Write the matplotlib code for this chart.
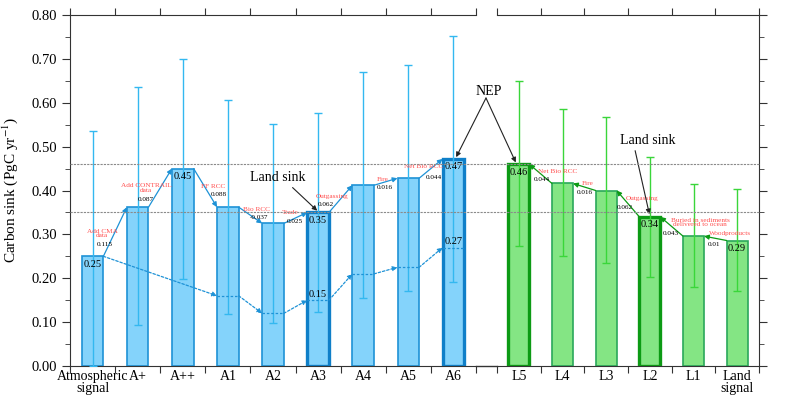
import numpy as np
import matplotlib.pyplot as plt
import matplotlib.transforms as mtransforms
from matplotlib.lines import Line2D

plt.rcParams['font.family'] = ['Liberation Serif', 'DejaVu Serif']
plt.rcParams['mathtext.fontset'] = 'stix'
plt.rcParams['font.size'] = 10

# atmospheric side (left panel)
atm_names = ["Atmospheric\nsignal", "A+", "A++", "A1", "A2", "A3", "A4", "A5", "A6"]
atm_values = [0.25, 0.362, 0.45, 0.362, 0.325, 0.35, 0.412, 0.428, 0.472]
atm_upper = [0.535, 0.636, 0.70, 0.607, 0.552, 0.576, 0.67, 0.685, 0.752]
atm_lower = [0.0, 0.093, 0.199, 0.118, 0.099, 0.124, 0.154, 0.171, 0.192]
atm_dotted = [0.25, np.nan, np.nan, 0.16, 0.12, 0.15, 0.21, 0.225, 0.27]
atm_steps = ["Add CMA\ndata", "Add CONTRAIL\ndata", "FF RCC", "Bio RCC", "Trade",
             "Outgassing", "Fire", "Net Bio RCC"]
atm_deltas = ["0.115", "0.087", "0.088", "-0.037", "0.025", "0.062", "0.016", "0.044"]
atm_shown = {0: "0.25", 2: "0.45", 5: "0.35", 8: "0.47"}
atm_dotted_shown = {5: "0.15", 8: "0.27"}

# land side (right panel)
land_names = ["L5", "L4", "L3", "L2", "L1", "Land\nsignal"]
land_values = [0.46, 0.416, 0.40, 0.34, 0.296, 0.286]
land_upper = [0.65, 0.585, 0.568, 0.477, 0.414, 0.404]
land_lower = [0.274, 0.251, 0.235, 0.203, 0.18, 0.171]
land_steps = ["Net Bio RCC", "Fire", "Outgassing", "Buried in sediments\ndelivered to ocean",
              "Woodproducts"]
land_deltas = ["0.044", "0.016", "0.062", "0.043", "0.01"]
land_shown = {0: "0.46", 3: "0.34", 5: "0.29"}

NEP_LEVEL = 0.46
SINK_LEVEL = 0.35

# label placement (data coords of each panel)
atm_step_xy = [(0.21, 0.302), (1.19, 0.406), (2.68, 0.409), (3.63, 0.356), (4.39, 0.349),
               (5.30, 0.386), (6.43, 0.426), (7.34, 0.454)]
atm_delta_xy = [(0.28, 0.276), (1.17, 0.380), (2.79, 0.392), (3.70, 0.339), (4.49, 0.329),
                (5.18, 0.369), (6.48, 0.406), (7.56, 0.429)]
land_step_xy = [(0.89, 0.444), (1.58, 0.416), (2.82, 0.382), (4.15, 0.327), (4.83, 0.301)]
land_delta_xy = [(0.53, 0.424), (1.52, 0.395), (2.42, 0.362), (3.48, 0.301), (4.46, 0.276)]

W = 0.48
RED = '#ff4f4f'
BLUE_FILL, BLUE_EDGE, BLUE_DARK, BLUE_ERR = '#84d3fb', '#1e92d6', '#0f7fc8', '#33b8f0'
GREEN_FILL, GREEN_EDGE, GREEN_DARK, GREEN_ERR = '#84e584', '#2aa85a', '#0c9a14', '#3ad63a'
SPINE = '#333333'


def style_axis(ax, names, side):
	n = len(names)
	x = np.arange(n)
	ax.set_xlim(-0.5, n - 0.5)
	ax.set_ylim(0, 0.8)
	ax.set_xticks(np.arange(-0.5, n, 1.0))
	ax.set_xticks(x, names, minor=True)
	ax.tick_params(axis='x', which='major', direction='out', length=5, top=True,
	               labelbottom=False, color=SPINE)
	ax.tick_params(axis='x', which='minor', length=0, labelsize=10, pad=3)
	for lab in ax.get_xticklabels(minor=True):
		lab.set_linespacing(0.85)
	ax.set_yticks(np.arange(0, 0.81, 0.1))
	ax.set_yticks(np.arange(0.05, 0.8, 0.1), minor=True)
	ax.tick_params(axis='y', which='major', direction='out', length=6, color=SPINE, labelsize=10.5)
	ax.tick_params(axis='y', which='minor', direction='out', length=3.5, color=SPINE)
	ax.yaxis.set_major_formatter('{x:.2f}')
	for s in ax.spines.values():
		s.set_color(SPINE)
	if side == 'left':
		ax.spines['right'].set_visible(False)
	else:
		ax.spines['left'].set_visible(False)
		ax.yaxis.tick_right()
		ax.tick_params(axis='y', which='both', labelright=False)


def draw_bars(ax, values, upper, lower, fill, edge, dark, err, bold):
	x = np.arange(len(values))
	v = np.array(values)
	bars = ax.bar(x, v, width=W, color=fill, edgecolor=edge, linewidth=1.2, zorder=2)
	for i in bold:
		bars[i].set_edgecolor(dark)
		bars[i].set_linewidth(2.4)
	ax.errorbar(x, v, yerr=[v - np.array(lower), np.array(upper) - v], fmt='none',
	            ecolor=err, elinewidth=1, capsize=3, capthick=1, zorder=3)


def arrow(ax, start, end, color, ls='-', lw=0.9):
	ax.annotate('', xy=end, xytext=start,
	            arrowprops=dict(arrowstyle='-|>', color=color, lw=lw, ls=ls,
	                            mutation_scale=7, shrinkA=0, shrinkB=0), zorder=4)


fig = plt.figure(figsize=(7.87, 4.11), dpi=100)
ax1 = fig.add_axes([70 / 787, 45 / 411, 406 / 787, 351 / 411])
ax2 = fig.add_axes([497 / 787, 45 / 411, 262 / 787, 351 / 411])

style_axis(ax1, atm_names, 'left')
style_axis(ax2, land_names, 'right')
ax1.set_ylabel("Carbon sink (PgC yr$^{-1}$)", fontsize=11, labelpad=8)

draw_bars(ax1, atm_values, atm_upper, atm_lower, BLUE_FILL, BLUE_EDGE, BLUE_DARK, BLUE_ERR, [5, 8])
draw_bars(ax2, land_values, land_upper, land_lower, GREEN_FILL, GREEN_EDGE, GREEN_DARK, GREEN_ERR, [0, 3])

# reference levels across both panels, and the bottom spine through the gap
for level, col, ls, lw in [(NEP_LEVEL, '#8a8a8a', (0, (2, 1)), 0.8),
                           (SINK_LEVEL, '#8a8a8a', (0, (2, 1)), 0.8),
                           (0.0, SPINE, '-', 1.0)]:
	tr = mtransforms.blended_transform_factory(fig.transFigure, ax1.transData)
	x0 = 70 / 787 if level > 0 else 476 / 787
	x1 = 759 / 787 if level > 0 else 497 / 787
	fig.add_artist(Line2D([x0, x1], [level, level], transform=tr, color=col, ls=ls, lw=lw, zorder=1))

# solid step arrows (left: forward, right: backward)
for i in range(len(atm_values) - 1):
	arrow(ax1, (i + W / 2, atm_values[i]), (i + 1 - W / 2, atm_values[i + 1]), BLUE_EDGE)
for i in range(len(land_values) - 1):
	arrow(ax2, (i + 1 - W / 2, land_values[i + 1]), (i + W / 2, land_values[i]), GREEN_DARK)

# dotted lower path on the atmospheric side
known = [i for i, d in enumerate(atm_dotted) if not np.isnan(d)]
for a, b in zip(known[:-1], known[1:]):
	arrow(ax1, (a + W / 2, atm_dotted[a]), (b - W / 2, atm_dotted[b]), BLUE_EDGE, ls=(0, (2, 1.5)))
for i in known[1:]:
	ax1.plot([i - W / 2, i + W / 2], [atm_dotted[i], atm_dotted[i]], color=BLUE_EDGE,
	         ls=(0, (2, 1.5)), lw=0.9, zorder=4)

# step labels
for txt, (x, y) in zip(atm_steps, atm_step_xy):
	ax1.text(x, y, txt, color=RED, fontsize=5.2, ha='center', va='center', linespacing=0.95, zorder=5)
for txt, (x, y) in zip(atm_deltas, atm_delta_xy):
	ax1.text(x, y, txt, color='black', fontsize=5.2, ha='center', va='center', zorder=5)
for txt, (x, y) in zip(land_steps, land_step_xy):
	ax2.text(x, y, txt, color=RED, fontsize=5.2, ha='center', va='center', linespacing=0.95, zorder=5)
for txt, (x, y) in zip(land_deltas, land_delta_xy):
	ax2.text(x, y, txt, color='black', fontsize=5.2, ha='center', va='center', zorder=5)

# value labels inside bars
for i, txt in atm_shown.items():
	ax1.text(i, atm_values[i] - 0.008, txt, fontsize=7.5, ha='center', va='top', zorder=5)
for i, txt in atm_dotted_shown.items():
	ax1.text(i, atm_dotted[i] + 0.003, txt, fontsize=7.5, ha='center', va='bottom', zorder=5)
for i, txt in land_shown.items():
	ax2.text(i, land_values[i] - 0.008, txt, fontsize=7.5, ha='center', va='top', zorder=5)

# black callouts
black = dict(arrowstyle='-|>', color='#222222', lw=0.8, mutation_scale=7, shrinkA=0, shrinkB=0)
ax1.annotate('Land sink', xy=(4.98, SINK_LEVEL + 0.004), xytext=(4.1, 0.43), fontsize=10,
             ha='center', va='center', arrowprops=dict(black, relpos=(0.7, 0.0), shrinkA=1), zorder=6)
ax2.annotate('Land sink', xy=(2.99, land_values[3] + 0.006), xytext=(2.96, 0.515), fontsize=10,
             ha='center', va='center', arrowprops=dict(black, relpos=(0.25, 0.0), shrinkA=1), zorder=6)
fig.text(489 / 787, 1 - 91 / 411, 'NEP', fontsize=10, ha='center', va='center')
ax1.annotate('', xy=(8.06, atm_values[8] + 0.004), xytext=(486, 411 - 98),
             textcoords='figure pixels', arrowprops=black, annotation_clip=False, zorder=6)
ax2.annotate('', xy=(-0.07, land_values[0] + 0.004), xytext=(486, 411 - 98),
             textcoords='figure pixels', arrowprops=black, annotation_clip=False, zorder=6)

fig.savefig('out.png', dpi=100)
